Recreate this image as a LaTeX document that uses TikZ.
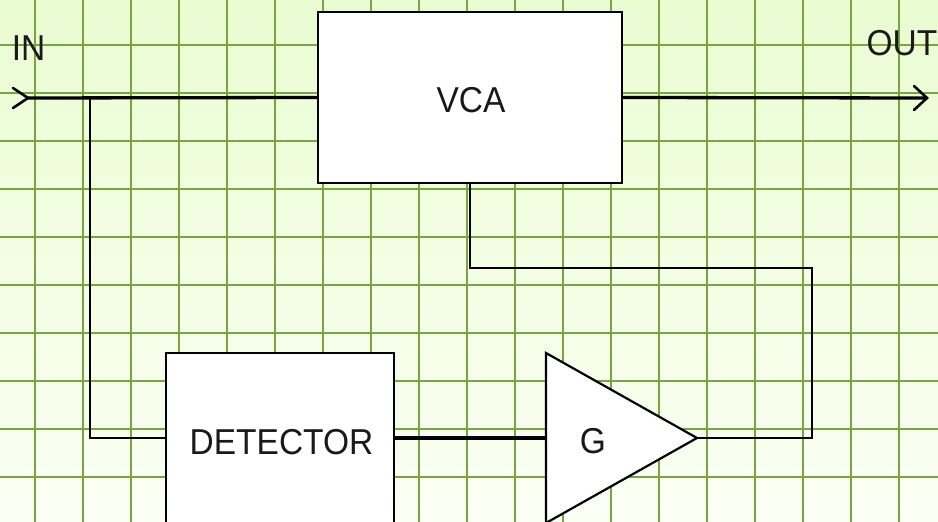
\documentclass[tikz,border=0pt]{standalone}
\usepackage{fontspec}
\setmainfont{Liberation Sans}[FakeStretch=0.93]
\definecolor{gridgreen}{RGB}{122,164,68}
\definecolor{bgtop}{RGB}{234,252,210}
\definecolor{bgbot}{RGB}{251,255,244}
\tikzset{
  blockbox/.style={draw=black, line width=2.2pt, fill=white, inner sep=0pt, rectangle},
  lbl/.style={inner sep=0pt, text=black!90, font=\fontsize{36}{40}\selectfont},
  sigline/.style={draw=black, line width=3.3pt},
  thinline/.style={draw=black, line width=2.2pt},
  gridline/.style={draw=gridgreen, line width=2.6pt},
  barb/.style={draw=black, line width=2.6pt, line cap=round, line join=miter}
}
\begin{document}
\begin{tikzpicture}[x=1pt,y=1pt]
\useasboundingbox (0,0) rectangle (938,522);
\shade[top color=bgtop, bottom color=bgbot] (0,0) rectangle (938,522);
\foreach \i in {0,...,18} { \draw[gridline] (35+48*\i,0) -- (35+48*\i,522); }
\foreach \j in {0,...,9} { \draw[gridline] (0,45+48*\j) -- (938,45+48*\j); }

% blocks
\node[blockbox, minimum width=304pt, minimum height=171pt] (vca) at (470,424.5) {};
\node[lbl] (vcat) at (471,422) {VCA};
\node[blockbox, minimum width=228pt, minimum height=170pt] (det) at (280,84) {};
\node[lbl] (dett) at (281.5,80) {DETECTOR};
\coordinate (gtop) at (546,169);
\coordinate (gbot) at (546,-1);
\coordinate (gout) at (697,84);
\coordinate (gin) at (546,84);
\draw[black, line width=2.2pt, fill=white, line join=miter] (gtop) -- (gout) -- (gbot) -- cycle;
\node[lbl] (gt) at (593,81) {G};

% labels
\node[lbl] (inl) at (28.5,473.5) {IN};
\node[lbl] (outl) at (902,478.5) {OUT};

% connectors
\coordinate (in) at (28,424);
\coordinate (out) at (927,424);
\coordinate (br) at (90,424);
\coordinate (fb) at (812,254);
\draw[sigline] (in) -- (vca.west);
\draw[sigline] (vca.east) -- (out);
\draw[barb] ([shift={(-15,10)}]in) -- (in) -- ([shift={(-15,-10)}]in);
\draw[barb] ([shift={(-13,12)}]out) -- (out) -- ([shift={(-13,-12)}]out);
\draw[thinline] (br) |- (det.west);
\draw[sigline] (det.east) -- (gin);
\draw[thinline] (gout) -| (fb) -| (vca.south);
\end{tikzpicture}
\end{document}
